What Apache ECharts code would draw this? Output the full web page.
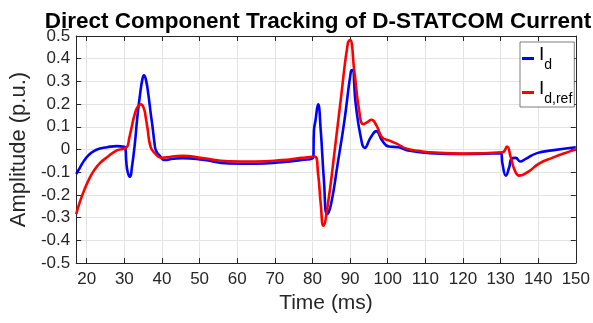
<!DOCTYPE html>
<html>
<head>
<meta charset="utf-8">
<script src="https://cdn.jsdelivr.net/npm/echarts@6/dist/echarts.min.js"></script>
<style>
html,body{margin:0;padding:0;background:#fff;}
#c{width:593px;height:323px;}
</style>
</head>
<body>
<div id="c"></div>
<script>
const titleText = 'Direct Component Tracking of D-STATCOM Current';
const xName = 'Time (ms)';
const yName = 'Amplitude (p.u.)';
const yTicks = [-0.5,-0.4,-0.3,-0.2,-0.1,0,0.1,0.2,0.3,0.4,0.5];

const idTime = [17.2,18.2,19.3,20.5,21.9,23.5,25.4,28.0,30.0,30.3,30.5,30.9,31.5,32.0,32.8,33.5,34.2,34.8,35.2,35.7,36.35,37.0,37.5,38.0,38.4,39.4,40.7,42.9,45.5,50.8,57.8,64.8,71.8,77.1,80.2,80.4,80.8,81.5,82.2,83.05,83.9,84.95,86.7,88.5,90.2,90.6,91.5,92.85,93.9,95.5,97.0,98.5,100.3,102.9,105.1,111.2,120,130.1,130.5,131.4,132.3,132.9,134.0,135.2,136.7,139.7,143.7,150];
const idValue = [-0.108,-0.08,-0.049,-0.025,-0.007,0.004,0.010,0.015,0.012,0.005,-0.05,-0.10,-0.12,-0.08,0.027,0.15,0.246,0.31,0.327,0.31,0.246,0.16,0.099,0.03,-0.004,-0.027,-0.046,-0.041,-0.038,-0.045,-0.062,-0.063,-0.056,-0.046,-0.037,0.084,0.128,0.199,0.084,-0.137,-0.285,-0.24,-0.063,0.128,0.342,0.35,0.2,0.054,0.007,0.054,0.081,0.04,0.013,0.01,-0.003,-0.016,-0.02,-0.016,-0.063,-0.115,-0.078,-0.041,-0.037,-0.053,-0.041,-0.016,-0.004,0.01];

const idRefTime = [17.2,18.2,19.3,20.5,21.9,23.5,25.4,28.0,30.6,31.3,31.95,32.8,33.6,34.4,35.2,35.7,36.1,37.0,38.1,39.8,41.2,45.5,50.8,57.8,64.8,71.8,77.1,80.6,81.5,82.2,82.9,84.1,85.8,87.6,89.4,90.0,91.1,92.4,93.55,94.6,95.7,97.0,98.5,100.3,102.5,105.1,108.6,111.2,120,130.5,131.7,132.7,133.8,135.0,137.5,140.1,143.7,147.2,150];
const idRefValue = [-0.285,-0.23,-0.18,-0.135,-0.093,-0.06,-0.034,-0.004,0.010,0.05,0.099,0.158,0.19,0.199,0.18,0.14,0.099,0.01,-0.016,-0.037,-0.034,-0.028,-0.038,-0.052,-0.053,-0.047,-0.037,-0.031,-0.108,-0.24,-0.336,-0.24,-0.019,0.231,0.468,0.482,0.35,0.173,0.111,0.121,0.131,0.106,0.054,0.04,0.025,0.003,-0.007,-0.012,-0.018,-0.012,0.013,-0.034,-0.093,-0.115,-0.096,-0.063,-0.037,-0.015,0.0];

const zip = (a,b) => a.map((t,i)=>[t,b[i]]);
const axisColor = '#262626';
const font = 'Liberation Sans, Arial, sans-serif';

const chart = echarts.init(document.getElementById('c'), null, {renderer:'canvas'});
chart.setOption({
  animation:false,
  backgroundColor:'#fff',
  title:{
    text:titleText, left:313, top:5, textAlign:'center',
    textStyle:{fontFamily:font,fontWeight:'bold',fontSize:22.5,color:'#000'}
  },
  grid:{left:72,right:16,top:36,bottom:60},
  legend:{
    orient:'vertical', left:520, top:42, itemWidth:12, itemHeight:3, itemGap:7,
    padding:[3,2,1,2],
    backgroundColor:'#fff', borderColor:'#262626', borderWidth:0.6,
    icon:'rect',
    formatter:function(name){
      return name==='Id' ? '{i|I}{s|d}' : '{i|I}{s|d,ref}';
    },
    textStyle:{
      fontFamily:font, color:'#000',
      rich:{
        i:{fontSize:19,fontFamily:font,color:'#000',verticalAlign:'top',lineHeight:20},
        s:{fontSize:14,fontFamily:font,color:'#000',verticalAlign:'bottom',lineHeight:27}
      }
    },
    data:['Id','Idref']
  },
  xAxis:[{
    type:'value', min:17.2, max:150, splitNumber:10,
    name:xName, nameLocation:'middle', nameGap:30,
    nameTextStyle:{fontFamily:font,fontSize:21,color:axisColor},
    axisLine:{show:true,onZero:false,lineStyle:{color:axisColor,width:1}},
    axisTick:{show:true,inside:true,length:5,lineStyle:{color:axisColor}},
    axisLabel:{fontFamily:font,fontSize:17,color:axisColor,margin:8,showMinLabel:false},
    splitLine:{show:true,lineStyle:{color:'#e3e3e3',width:1}}
  },{
    type:'value', min:17.2, max:150, splitNumber:10, position:'top',
    axisLine:{show:true,onZero:false,lineStyle:{color:axisColor,width:1}},
    axisTick:{show:true,inside:true,length:5,lineStyle:{color:axisColor}},
    axisLabel:{show:false}, splitLine:{show:false}
  }],
  yAxis:[{
    type:'value', min:yTicks[0], max:yTicks[yTicks.length-1], interval:0.1,
    name:yName, nameLocation:'middle', nameGap:42,
    nameTextStyle:{fontFamily:font,fontSize:22,color:axisColor},
    axisLine:{show:true,onZero:false,lineStyle:{color:axisColor,width:1}},
    axisTick:{show:true,inside:true,length:5,lineStyle:{color:axisColor}},
    axisLabel:{fontFamily:font,fontSize:17,color:axisColor,margin:6,
      formatter:v=>{const r=Math.round(v*10)/10; return r===0?'0':String(r);}},
    splitLine:{show:true,lineStyle:{color:'#e3e3e3',width:1}}
  },{
    type:'value', min:yTicks[0], max:yTicks[yTicks.length-1], interval:0.1, position:'right',
    axisLine:{show:true,onZero:false,lineStyle:{color:axisColor,width:1}},
    axisTick:{show:true,inside:true,length:5,lineStyle:{color:axisColor}},
    axisLabel:{show:false}, splitLine:{show:false}
  }],
  series:[
    {name:'Id',type:'line',data:zip(idTime,idValue),showSymbol:false,smooth:0.5,
     lineStyle:{color:'#0000ff',width:2.6},itemStyle:{color:'#0000ff'},z:3},
    {name:'Idref',type:'line',data:zip(idRefTime,idRefValue),showSymbol:false,smooth:0.5,
     lineStyle:{color:'#ff0000',width:2.6},itemStyle:{color:'#ff0000'},z:4}
  ]
});
</script>
</body>
</html>
